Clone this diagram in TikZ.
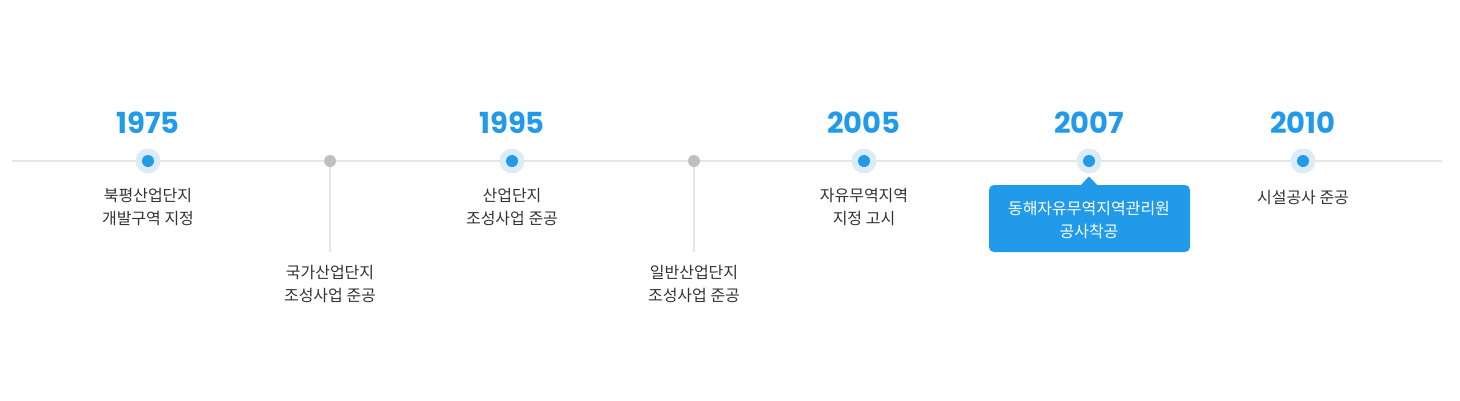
\documentclass[tikz,border=0pt]{standalone}
\usepackage{fontspec}
\newfontfamily\kr{Noto Sans CJK KR}
\newfontfamily\yr{Poppins}
\usetikzlibrary{calc}
\definecolor{tblue}{HTML}{229AEA}
\definecolor{thalo}{HTML}{DCEBF8}
\definecolor{tline}{HTML}{E6E6E6}
\definecolor{tgray}{HTML}{C0C0C0}
\definecolor{ttext}{HTML}{333333}
\tikzset{
  yearlbl/.style={font=\yr\bfseries\fontsize{29}{30}\selectfont, text=tblue, inner sep=0pt},
  desc/.style={font=\kr\fontsize{16}{23.5}\selectfont, text=ttext, align=center, inner sep=0pt},
  halo/.style={circle, fill=thalo, minimum size=25pt, inner sep=0pt},
  bdot/.style={circle, fill=tblue, minimum size=12pt, inner sep=0pt},
  gdot/.style={circle, fill=tgray, minimum size=12pt, inner sep=0pt},
  stem/.style={draw=tline, line width=1.5pt},
}
\begin{document}
\begin{tikzpicture}[x=1pt,y=-1pt]
\useasboundingbox (0,0) rectangle (1460,400);
\coordinate (L) at (12,160.5);
\coordinate (R) at (1442,160.5);
\draw[tline, line width=2pt] (L) -- (R);
% blue milestones
\foreach \n/\x/\yy in {a/148/1975, c/512/1995, e/864/2005, f/1089/2007, g/1303/2010}{
  \node[halo] (h\n) at (\x,161) {};
  \node[bdot] (d\n) at (\x,161) {};
  \node[yearlbl] (y\n) at (\x,123) {\yy};
}
% gray milestones
\foreach \n/\x in {b/330, d/694}{
  \coordinate (s\n) at (\x,252);
  \draw[stem] (\x,161) coordinate (t\n) -- (s\n);
  \node[gdot] (d\n) at (\x,161) {};
}
\node[desc] (ta) at (148,207) {북평산업단지\\개발구역 지정};
\node[desc] (tb) at (330,284) {국가산업단지\\조성사업 준공};
\node[desc] (tc) at (512,207) {산업단지\\조성사업 준공};
\node[desc] (td) at (694,284) {일반산업단지\\조성사업 준공};
\node[desc] (te) at (864,207) {자유무역지역\\지정 고시};
\node[desc] (tg) at (1303,198) {시설공사 준공};
% callout
\fill[tblue, rounded corners=5pt] (989,185) rectangle (1190,252);
\fill[tblue] (1080,186) -- (1089,176.5) -- (1098,186) -- cycle;
\node[desc, text=white] (tf) at (1089,220) {동해자유무역지역관리원\\공사착공};
\end{tikzpicture}
\end{document}
